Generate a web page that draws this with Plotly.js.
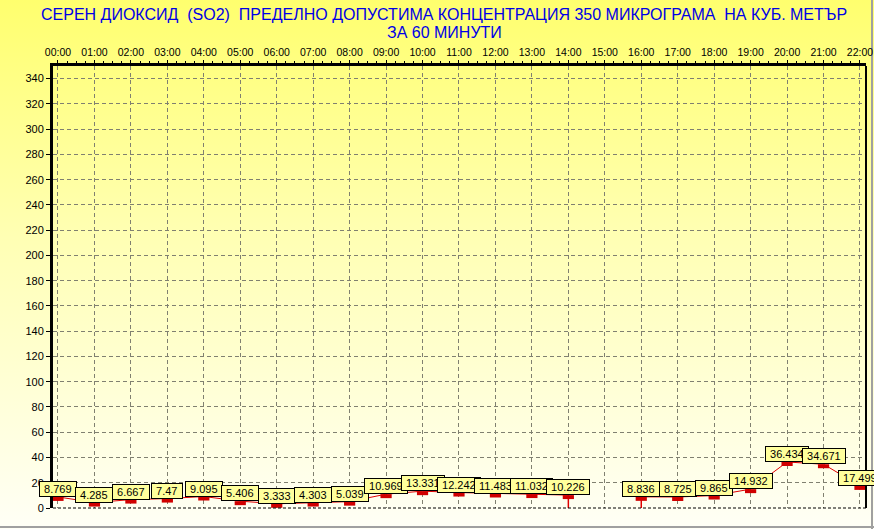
<!DOCTYPE html>
<html>
<head>
<meta charset="utf-8">
<script src="https://cdn.plot.ly/plotly-3.0.1.min.js"></script>
<style>
  html, body { margin: 0; padding: 0; }
  #wrap { position: relative; width: 874px; height: 529px; overflow: hidden;
          background: linear-gradient(to bottom, #FFFF6E 0%, #FFFFB4 45%, #FFFFF6 100%); }
  #chart { position: absolute; left: 0; top: 0; width: 874px; height: 529px; }
  #fb { position: absolute; left: 0; top: 526px; width: 874px; height: 2px; background: #A0A0A0; }
  #fr { position: absolute; left: 871px; top: 0; width: 2px; height: 529px; background: #A0A0A0; }
</style>
</head>
<body>
<div id="wrap"><div id="fb"></div><div id="fr"></div><div id="chart"></div></div>
<script>
// ---- data ----
const hours = ['00:00','01:00','02:00','03:00','04:00','05:00','06:00','07:00','08:00','09:00','10:00',
               '11:00','12:00','13:00','14:00','15:00','16:00','17:00','18:00','19:00','20:00','21:00','22:00'];
const so2 = [8.769, 4.285, 6.667, 7.47, 9.095, 5.406, 3.333, 4.303, 5.039, 10.969, 13.331,
             12.242, 11.483, 11.032, 10.226, null, 8.836, 8.725, 9.865, 14.932, 36.434, 34.671, 17.499];
const titleLines = ['СЕРЕН ДИОКСИД\u00A0\u00A0(SO2)\u00A0\u00A0ПРЕДЕЛНО ДОПУСТИМА КОНЦЕНТРАЦИЯ 350 МИКРОГРАМА\u00A0\u00A0НА КУБ. МЕТЪР',
                    'ЗА 60 МИНУТИ'];

// numeric positions
const xs = hours.map((h, i) => i);

// drop lines at the borders of missing data
const dropX = [], dropY = [];
so2.forEach((v, i) => {
  if (v === null) return;
  const prevMissing = i > 0 && so2[i - 1] === null;
  const nextMissing = i < so2.length - 1 && so2[i + 1] === null;
  if (prevMissing || nextMissing) { dropX.push(xs[i], xs[i], null); dropY.push(v, 0, null); }
});

const FONT = 'Liberation Sans, Arial, sans-serif';
const pxPerUnit = 442 / 350;
const shift = 2 / pxPerUnit;

const traces = [
  { x: xs, y: so2, type: 'scatter', mode: 'lines', connectgaps: false,
    line: { color: '#E00000', width: 1 }, hoverinfo: 'skip' },
  { x: dropX, y: dropY, type: 'scatter', mode: 'lines',
    line: { color: '#E00000', width: 1.5 }, hoverinfo: 'skip' },
  { x: xs, y: so2, type: 'scatter', mode: 'markers', yaxis: 'y2',
    marker: { symbol: 'line-ew', size: 8, line: { color: '#D00000', width: 4 } }, hoverinfo: 'skip' }
];

const annotations = [];
// title lines
const titleY = [1.1154, 1.0747];
titleLines.forEach((t, i) => {
  annotations.push({
    x: 0.481, y: titleY[i], xref: 'paper', yref: 'paper', text: t, showarrow: false,
    xanchor: 'center', yanchor: 'middle',
    font: { family: FONT, size: 16, color: '#0000E6' }
  });
});
so2.forEach((v, i) => {
  if (v === null) return;
  annotations.push({
    x: xs[i], y: v, xref: 'x', yref: 'y', text: '\u00A0' + String(v) + '\u00A0',
    showarrow: false, xanchor: 'center', yanchor: 'bottom', yshift: 0,
    bgcolor: '#FFFF9C', bordercolor: '#000000', borderwidth: 1, borderpad: 1,
    font: { family: FONT, size: 11, color: '#000000' }
  });
});

const layout = {
  width: 874, height: 529,
  margin: { l: 53, r: 8, t: 66, b: 21 },
  paper_bgcolor: 'rgba(0,0,0,0)', plot_bgcolor: 'rgba(0,0,0,0)',
  showlegend: false,
  xaxis: { side: 'top', range: [-0.137, 22.165], tickvals: xs, ticktext: hours,
           showgrid: true, gridcolor: '#808070', griddash: '4px,3px', gridwidth: 1,
           showline: true, linecolor: '#000000', linewidth: 3,
           ticks: 'outside', ticklen: 3, tickcolor: '#000000',
           minor: { dtick: 0.25, ticks: 'outside', ticklen: 2, tickcolor: '#000000', showgrid: false },
           tickfont: { family: FONT, size: 10.5, color: '#000000' },
           zeroline: false, fixedrange: true },
  yaxis: { range: [0, 350], dtick: 20, tick0: 0,
           showgrid: true, gridcolor: '#808070', griddash: '4px,3px', gridwidth: 1,
           showline: true, linecolor: '#000000', linewidth: 3,
           ticks: 'outside', ticklen: 4, tickcolor: '#000000',
           tickfont: { family: FONT, size: 11, color: '#000000' },
           zeroline: false, fixedrange: true },
  yaxis2: { overlaying: 'y', range: [shift, 350 + shift], visible: false, fixedrange: true },
  shapes: [
    { type: 'line', xref: 'paper', yref: 'paper', x0: 0, x1: 1, y0: 0, y1: 0,
      line: { color: '#000000', width: 1, dash: '3px,2px' } },
    { type: 'line', xref: 'paper', yref: 'paper', x0: 1, x1: 1, y0: 0, y1: 1,
      line: { color: '#000000', width: 2 } }
  ],
  annotations: annotations
};

Plotly.newPlot('chart', traces, layout, { staticPlot: true, displayModeBar: false });
</script>
</body>
</html>
